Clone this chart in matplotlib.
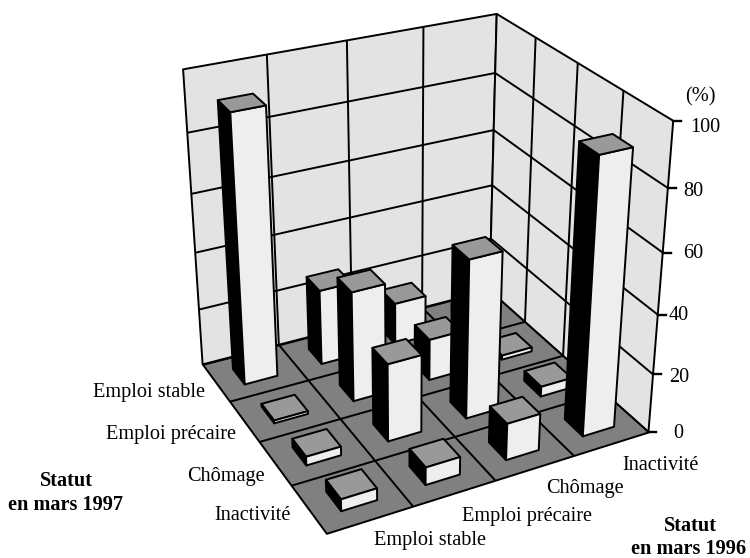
import numpy as np
import matplotlib
matplotlib.use("Agg")
import matplotlib.pyplot as plt
from matplotlib.lines import Line2D
from mpl_toolkits.mplot3d.art3d import Poly3DCollection, Line3DCollection

# ---- data ----
status_1996 = ["Emploi stable", "Emploi précaire", "Chômage", "Inactivité"]
status_1997 = ["Emploi stable", "Emploi précaire", "Chômage", "Inactivité"]
emploi_stable_1997 = [91.5, 26.5, 15, 3]
emploi_precaire_1997 = [1, 38, 14.5, 1.5]
chomage_1997 = [3, 26.5, 54, 3.5]
inactivite_1997 = [4, 6, 12.5, 91]
z_ticks = [0, 20, 40, 60, 80, 100]

# ---- style ----
W, H, DPI = 750, 558, 100
plt.rcParams["font.family"] = ["Liberation Serif", "DejaVu Serif"]
FS = 14.6
BAR = 0.42
LW = 1.4
C_WALL, C_FLOOR, C_TOP, C_FRONT, C_SIDE = "#e3e3e3", "#808080", "#999999", "#eeeeee", "#000000"

# camera: corners of the plot box (x, y, z) seen at reference pixels
box_pts = [(0, 0, 0), (0, 4, 0), (4, 4, 0), (4, 0, 0), (0, 0, 100), (4, 0, 100), (4, 4, 100)]
pix_pts = [(203, 365), (326, 533), (649, 432), (489, 290), (183, 69), (497, 14), (673, 121)]
rows, rhs = [], []
for (x, y, z), (u, v) in zip(box_pts, pix_pts):
    rows.append([x, y, z, 1, 0, 0, 0, 0, -u * x, -u * y, -u * z])
    rhs.append(u)
    rows.append([0, 0, 0, 0, x, y, z, 1, -v * x, -v * y, -v * z])
    rhs.append(v)
sol = np.linalg.lstsq(np.array(rows, float), np.array(rhs, float), rcond=None)[0]
P = np.append(sol, 1.0).reshape(3, 4)

fig = plt.figure(figsize=(W / DPI, H / DPI), dpi=DPI, facecolor="white")
ax = fig.add_axes([0, 0, 1, 1], projection="3d", computed_zorder=False)
ax.set_axis_off()
ax.patch.set_alpha(0)


def get_proj():
    flip = np.array([[1, 0, 0], [0, -1, H], [0, 0, 1.0]])
    G = np.linalg.inv(ax.transData.get_affine().get_matrix()) @ flip @ P
    depth = G[2] - np.array([0, 0, 0, 0.5])
    return np.vstack([G[0], G[1], depth, G[2]])


ax.get_proj = get_proj


def pixel(x, y, z):
    q = P @ np.array([x, y, z, 1.0])
    return q[0] / q[2], q[1] / q[2]


def add(art):
    ax.add_collection3d(art)
    art.set_clip_on(False)


zmax = z_ticks[-1]
ncat = len(status_1996)
walls = [
    [(0, 0, 0), (ncat, 0, 0), (ncat, 0, zmax), (0, 0, zmax)],
    [(ncat, 0, 0), (ncat, ncat, 0), (ncat, ncat, zmax), (ncat, 0, zmax)],
]
add(Poly3DCollection(walls, facecolors=C_WALL, edgecolors="black", linewidths=LW, zorder=1))
floor = [[(0, 0, 0), (ncat, 0, 0), (ncat, ncat, 0), (0, ncat, 0)]]
add(Poly3DCollection(floor, facecolors=C_FLOOR, edgecolors="black", linewidths=LW, zorder=2))

grid = []
for t in z_ticks[1:-1]:
    grid.append([(0, 0, t), (ncat, 0, t)])
    grid.append([(ncat, 0, t), (ncat, ncat, t)])
for k in range(1, ncat):
    grid.append([(k, 0, 0), (k, 0, zmax)])
    grid.append([(ncat, k, 0), (ncat, k, zmax)])
add(Line3DCollection(grid, colors="black", linewidths=LW, zorder=3))
fl = []
for k in range(1, ncat):
    fl.append([(k, 0, 0), (k, ncat, 0)])
    fl.append([(0, k, 0), (ncat, k, 0)])
add(Line3DCollection(fl, colors="black", linewidths=LW, zorder=3))

matrix = [emploi_stable_1997, emploi_precaire_1997, chomage_1997, inactivite_1997]
order = 10
for r, row_vals in enumerate(matrix):
    for c in range(ncat - 1, -1, -1):
        h = row_vals[c]
        x0, x1 = c + 0.5 - BAR / 2, c + 0.5 + BAR / 2
        y0, y1 = r + 0.5 - BAR / 2, r + 0.5 + BAR / 2
        faces = [
            [(x0, y0, 0), (x0, y1, 0), (x0, y1, h), (x0, y0, h)],
            [(x0, y1, 0), (x1, y1, 0), (x1, y1, h), (x0, y1, h)],
            [(x0, y0, h), (x1, y0, h), (x1, y1, h), (x0, y1, h)],
        ]
        add(Poly3DCollection(faces, facecolors=[C_SIDE, C_FRONT, C_TOP],
                             edgecolors="black", linewidths=LW, zorder=order))
        order += 1


def put(px, py, s, **kw):
    fig.text(px / W, 1 - py / H, s, fontsize=FS, va="center", color="black", **kw)


for t, py_label, px_label in zip(z_ticks, [433, 378, 316, 254, 191, 127], [673, 669, 669, 683, 683, 690]):
    px, py = pixel(ncat, ncat, t)
    fig.add_artist(Line2D([px / W, (px + 8) / W], [1 - py / H, 1 - py / H], color="black", lw=LW + 0.3,
                          transform=fig.transFigure))
    put(px_label, py_label, str(t), ha="left")
put(685, 97, "(%)", ha="left")

for s, xr, yc in zip(status_1997, [205, 236, 265, 291], [392, 434, 476, 516]):
    put(xr, yc, s, ha="right")
for s, xc, yc in zip(status_1996, [430, 527, 585, 661], [541, 516, 488, 465]):
    put(xc, yc, s, ha="center")
put(66, 481, "Statut", ha="center", fontweight="bold")
put(66, 505, "en mars 1997", ha="center", fontweight="bold")
put(690, 526, "Statut", ha="center", fontweight="bold")
put(689, 549, "en mars 1996", ha="center", fontweight="bold")

fig.savefig("out.png", dpi=DPI, facecolor="white")
